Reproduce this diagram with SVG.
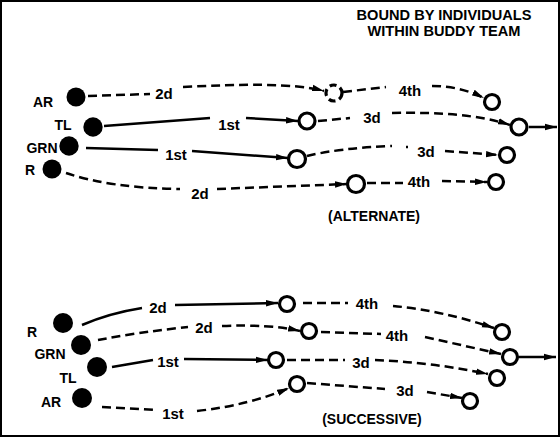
<svg xmlns="http://www.w3.org/2000/svg" width="560" height="437" viewBox="0 0 560 437">
<defs>
<style>
.lbl{font-family:"Liberation Sans",Arial,sans-serif;font-weight:bold;font-size:15px;fill:#000}
.cap{font-family:"Liberation Sans",Arial,sans-serif;font-weight:bold;font-size:14px;fill:#000}
.ttl{font-family:"Liberation Sans",Arial,sans-serif;font-weight:bold;font-size:14.6px;fill:#000}
.sol{fill:none;stroke:#000;stroke-width:2.5}
.dsh{fill:none;stroke:#000;stroke-width:2.5;stroke-dasharray:9 5}
.man{fill:#000}
.pos{fill:#fff;stroke:#000;stroke-width:3.2}
.arr{marker-end:url(#ah)}
</style>
<marker id="ah" markerUnits="userSpaceOnUse" markerWidth="13" markerHeight="8" refX="12" refY="4" orient="auto">
<path d="M0,0.8 L12,4 L0,7.2 z" fill="#000"/>
</marker>
</defs>
<rect x="1" y="1" width="558" height="435" fill="#fff" stroke="#000" stroke-width="2"/>
<g id="title">
<text class="ttl" x="444" y="20" text-anchor="middle">BOUND BY INDIVIDUALS</text>
<text class="ttl" x="444" y="36" text-anchor="middle">WITHIN BUDDY TEAM</text>
</g>
<g id="captions">
<text class="cap" x="374" y="221" text-anchor="middle">(ALTERNATE)</text>
<text class="cap" x="372" y="424" text-anchor="middle">(SUCCESSIVE)</text>
</g>
<g id="connectors">
<path class="dsh" d="M88 96 L150 94"/>
<path class="dsh arr" d="M183 87 C240 84 295 83 324 91"/>
<path class="dsh" d="M343 92 L386 87"/>
<path class="dsh arr" d="M432 86 Q460 86 484 98"/>
<path class="sol" d="M104 126 L210 118"/>
<path class="sol arr" d="M246 118 L298 121"/>
<path class="dsh" d="M318 121 L350 118"/>
<path class="dsh arr" d="M392 113 C440 112 480 115 510 125"/>
<path class="sol arr" d="M529 127 L557 127"/>
<path class="sol" d="M86 148 L158 150"/>
<path class="sol arr" d="M192 151 L288 158"/>
<path class="dsh" d="M307 156 Q340 148 392 146"/>
<path class="dsh" d="M406 147 L408 147"/>
<path class="dsh arr" d="M445 151 L498 155"/>
<path class="dsh" d="M66 173 Q110 188 180 189"/>
<path class="dsh arr" d="M217 189 L347 184"/>
<path class="dsh" d="M367 183 L403 183"/>
<path class="dsh arr" d="M442 181 L487 182"/>
<path class="sol" d="M82 325 Q110 313 142 308"/>
<path class="sol arr" d="M175 305 L278 303"/>
<path class="dsh" d="M303 303 L348 303"/>
<path class="dsh arr" d="M393 306 Q440 310 494 328"/>
<path class="dsh" d="M98 340 Q140 332 188 327"/>
<path class="dsh arr" d="M222 326 Q270 324 300 331"/>
<path class="dsh" d="M321 332 L381 334"/>
<path class="dsh arr" d="M425 337 L501 354"/>
<path class="sol arr" d="M519 357 L556 357"/>
<path class="sol" d="M112 367 L153 360"/>
<path class="sol arr" d="M184 359 L268 360"/>
<path class="dsh" d="M287 360 L345 360"/>
<path class="dsh arr" d="M375 360 Q430 362 488 374"/>
<path class="dsh" d="M102 407 L157 410"/>
<path class="dsh arr" d="M197 411 Q250 405 289 388"/>
<path class="dsh" d="M307 383 L385 389"/>
<path class="dsh arr" d="M427 392 L462 398"/>
</g>
<g id="labels">
<text class="lbl" x="164" y="99" text-anchor="middle">2d</text>
<text class="lbl" x="410" y="96" text-anchor="middle">4th</text>
<text class="lbl" x="229" y="130" text-anchor="middle">1st</text>
<text class="lbl" x="372" y="123" text-anchor="middle">3d</text>
<text class="lbl" x="176" y="160" text-anchor="middle">1st</text>
<text class="lbl" x="426" y="157" text-anchor="middle">3d</text>
<text class="lbl" x="200" y="199" text-anchor="middle">2d</text>
<text class="lbl" x="419" y="187" text-anchor="middle">4th</text>
<text class="lbl" x="158" y="313" text-anchor="middle">2d</text>
<text class="lbl" x="367" y="309" text-anchor="middle">4th</text>
<text class="lbl" x="204" y="333" text-anchor="middle">2d</text>
<text class="lbl" x="397" y="341" text-anchor="middle">4th</text>
<text class="lbl" x="168" y="367" text-anchor="middle">1st</text>
<text class="lbl" x="361" y="368" text-anchor="middle">3d</text>
<text class="lbl" x="173" y="419" text-anchor="middle">1st</text>
<text class="lbl" x="405" y="396" text-anchor="middle">3d</text>
</g>
<g id="top-AR"><circle class="man" cx="76" cy="97" r="9.5"/><text class="cap" x="43" y="107" text-anchor="middle">AR</text></g>
<g id="top-TL"><circle class="man" cx="93" cy="127" r="9.7"/><text class="cap" x="63" y="130" text-anchor="middle">TL</text></g>
<g id="top-GRN"><circle class="man" cx="69" cy="146" r="9.7"/><text class="cap" x="42" y="153" text-anchor="middle">GRN</text></g>
<g id="top-R"><circle class="man" cx="52" cy="169" r="9.5"/><text class="cap" x="30" y="175" text-anchor="middle">R</text></g>
<g id="top-AR-1"><circle class="pos" cx="334" cy="93" r="8" stroke-dasharray="7 4"/></g>
<g id="top-AR-2"><circle class="pos" cx="492" cy="102" r="7.5"/></g>
<g id="top-TL-1"><circle class="pos" cx="307" cy="121" r="8"/></g>
<g id="top-TL-2"><circle class="pos" cx="519" cy="127" r="8"/></g>
<g id="top-GRN-1"><circle class="pos" cx="297" cy="159" r="8.5"/></g>
<g id="top-GRN-2"><circle class="pos" cx="507" cy="155" r="7.5"/></g>
<g id="top-R-1"><circle class="pos" cx="356" cy="184" r="8.5"/></g>
<g id="top-R-2"><circle class="pos" cx="496" cy="182" r="7.5"/></g>
<g id="bot-R"><circle class="man" cx="63" cy="323" r="10"/><text class="cap" x="32" y="337" text-anchor="middle">R</text></g>
<g id="bot-GRN"><circle class="man" cx="81" cy="345" r="10"/><text class="cap" x="50" y="359" text-anchor="middle">GRN</text></g>
<g id="bot-TL"><circle class="man" cx="97" cy="367" r="10"/><text class="cap" x="68" y="383" text-anchor="middle">TL</text></g>
<g id="bot-AR"><circle class="man" cx="82" cy="398" r="10"/><text class="cap" x="51" y="407" text-anchor="middle">AR</text></g>
<g id="bot-R-1"><circle class="pos" cx="287" cy="304" r="7.5"/></g>
<g id="bot-R-2"><circle class="pos" cx="502" cy="332" r="7.5"/></g>
<g id="bot-GRN-1"><circle class="pos" cx="309" cy="331" r="7.5"/></g>
<g id="bot-GRN-2"><circle class="pos" cx="510" cy="357" r="7.5"/></g>
<g id="bot-TL-1"><circle class="pos" cx="276" cy="360" r="7.5"/></g>
<g id="bot-TL-2"><circle class="pos" cx="497" cy="378" r="7.5"/></g>
<g id="bot-AR-1"><circle class="pos" cx="297" cy="384" r="7.5"/></g>
<g id="bot-AR-2"><circle class="pos" cx="470" cy="401" r="7.5"/></g>
</svg>
